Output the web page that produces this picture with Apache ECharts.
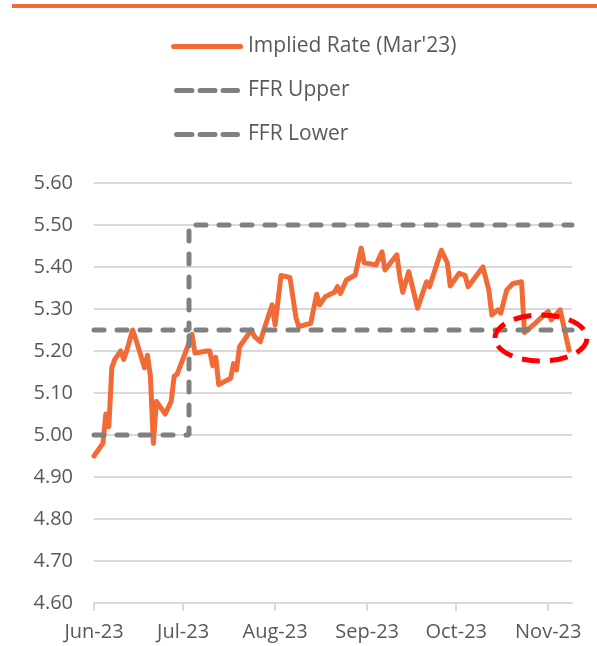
<!DOCTYPE html>
<html>
<head>
<meta charset="utf-8">
<script src="https://cdn.jsdelivr.net/npm/echarts@6/dist/echarts.min.js"></script>
<style>
  html, body { margin: 0; padding: 0; background: #fff; }
  #chart { width: 597px; height: 646px; }
</style>
</head>
<body>
<div id="chart"></div>
<script>
// implied rate
var rateDates = [
  '2023-06-01', '2023-06-04', '2023-06-05', '2023-06-06', '2023-06-07', '2023-06-08',
  '2023-06-10', '2023-06-11', '2023-06-12', '2023-06-14', '2023-06-15', '2023-06-18',
  '2023-06-19', '2023-06-20', '2023-06-21', '2023-06-22', '2023-06-25', '2023-06-27',
  '2023-06-28', '2023-06-29', '2023-07-02', '2023-07-04', '2023-07-05', '2023-07-09',
  '2023-07-10', '2023-07-11', '2023-07-12', '2023-07-13', '2023-07-17', '2023-07-18',
  '2023-07-19', '2023-07-20', '2023-07-24', '2023-07-25', '2023-07-27', '2023-07-28',
  '2023-07-31', '2023-08-01', '2023-08-03', '2023-08-06', '2023-08-08', '2023-08-09',
  '2023-08-13', '2023-08-15', '2023-08-16', '2023-08-18', '2023-08-21', '2023-08-22',
  '2023-08-23', '2023-08-25', '2023-08-28', '2023-08-30', '2023-08-31', '2023-09-04',
  '2023-09-06', '2023-09-07', '2023-09-11', '2023-09-12', '2023-09-13', '2023-09-15',
  '2023-09-18', '2023-09-21', '2023-09-22', '2023-09-26', '2023-09-28', '2023-09-29',
  '2023-10-02', '2023-10-04', '2023-10-05', '2023-10-10', '2023-10-12', '2023-10-13',
  '2023-10-15', '2023-10-16', '2023-10-18', '2023-10-20', '2023-10-23', '2023-10-24',
  '2023-10-27', '2023-10-30', '2023-11-01', '2023-11-02', '2023-11-05', '2023-11-08'
];
var rateValues = [
  4.95, 4.98, 5.05, 5.02, 5.16, 5.18,
  5.20, 5.18, 5.20, 5.25, 5.23, 5.16,
  5.19, 5.14, 4.98, 5.08, 5.05, 5.08,
  5.14, 5.145, 5.20, 5.24, 5.195, 5.20,
  5.20, 5.165, 5.185, 5.12, 5.135, 5.17,
  5.155, 5.21, 5.25, 5.235, 5.222, 5.246,
  5.31, 5.262, 5.38, 5.375, 5.28, 5.258,
  5.266, 5.335, 5.31, 5.33, 5.34, 5.353,
  5.337, 5.369, 5.381, 5.445, 5.41, 5.405,
  5.436, 5.393, 5.429, 5.377, 5.34, 5.389,
  5.302, 5.365, 5.353, 5.44, 5.41, 5.355,
  5.385, 5.38, 5.353, 5.40, 5.345, 5.286,
  5.298, 5.29, 5.345, 5.36, 5.365, 5.244,
  5.262, 5.282, 5.294, 5.274, 5.298, 5.202
];

// fed funds target range (step on the same day for both)
var ffrDates = ['2023-06-01', '2023-07-03', '2023-07-03', '2023-11-09'];
var ffrUpper = [5.25, 5.25, 5.50, 5.50];
var ffrLower = [5.00, 5.00, 5.25, 5.25];

var monthTicks = ['2023-06-01', '2023-07-01', '2023-08-01', '2023-09-01', '2023-10-01', '2023-11-01'];
var monthNames = ['Jan', 'Feb', 'Mar', 'Apr', 'May', 'Jun', 'Jul', 'Aug', 'Sep', 'Oct', 'Nov', 'Dec'];

function ts(s) {
  var p = s.split('-');
  return new Date(+p[0], +p[1] - 1, +p[2]).getTime();
}
function pairs(ds, vs) {
  return ds.map(function (d, i) { return [ts(d), vs[i]]; });
}

// legend icons: one rounded bar, and three rounded dashes
var solidIcon = 'path://M2.5,0 L69.5,0 A2.5,2.5 0 0 1 69.5,5 L2.5,5 A2.5,2.5 0 0 1 2.5,0 Z';
var dashIcon = 'path://M2.5,0 L18,0 A2.5,2.5 0 0 1 18,5 L2.5,5 A2.5,2.5 0 0 1 2.5,0 Z ' +
  'M26,0 L41,0 A2.5,2.5 0 0 1 41,5 L26,5 A2.5,2.5 0 0 1 26,0 Z ' +
  'M49,0 L63.5,0 A2.5,2.5 0 0 1 63.5,5 L49,5 A2.5,2.5 0 0 1 49,0 Z';

var orange = '#F26A36';
var grey = '#808080';
var font = 'Open Sans';

var chart = echarts.init(document.getElementById('chart'));
chart.setOption({
  animation: false,
  textStyle: { fontFamily: font },
  grid: { left: 94, right: 25, top: 183, bottom: 43 },
  legend: {
    orient: 'vertical',
    left: 166,
    top: 31,
    itemWidth: 72,
    itemHeight: 5,
    itemGap: 23,
    textStyle: { fontFamily: font, fontSize: 21, lineHeight: 21, color: '#595959' },
    data: [
      { name: "Implied Rate (Mar'23)", icon: solidIcon },
      { name: 'FFR Upper', icon: dashIcon },
      { name: 'FFR Lower', icon: dashIcon }
    ]
  },
  xAxis: {
    type: 'value',
    min: ts('2023-06-01'),
    max: ts('2023-11-09'),
    axisLine: { lineStyle: { color: '#d9d9d9', width: 2 } },
    axisTick: { show: true, length: 8, lineStyle: { color: '#d9d9d9', width: 2 },
                customValues: monthTicks.map(ts) },
    axisLabel: {
      customValues: monthTicks.map(ts),
      fontSize: 20,
      color: '#595959',
      margin: 19,
      formatter: function (v) { return monthNames[new Date(v).getMonth()] + '-23'; }
    },
    splitLine: { show: false }
  },
  yAxis: {
    type: 'value',
    min: 4.6,
    max: 5.6,
    interval: 0.1,
    axisLine: { show: false },
    axisTick: { show: false },
    axisLabel: {
      fontSize: 20,
      color: '#595959',
      margin: 21,
      formatter: function (v) { return v.toFixed(2); }
    },
    splitLine: { lineStyle: { color: '#d9d9d9', width: 2 } }
  },
  series: [
    {
      name: "Implied Rate (Mar'23)",
      type: 'line',
      symbol: 'none',
      data: pairs(rateDates, rateValues),
      lineStyle: { color: orange, width: 5, join: 'round', cap: 'round' },
      itemStyle: { color: orange }
    },
    {
      name: 'FFR Upper',
      type: 'line',
      symbol: 'none',
      data: pairs(ffrDates, ffrUpper),
      lineStyle: { color: grey, width: 5, type: [10, 13], cap: 'round' },
      itemStyle: { color: grey }
    },
    {
      name: 'FFR Lower',
      type: 'line',
      symbol: 'none',
      data: pairs(ffrDates, ffrLower),
      lineStyle: { color: grey, width: 5, type: [10, 13], cap: 'round' },
      itemStyle: { color: grey }
    }
  ],
  graphic: [
    {
      type: 'rect',
      shape: { x: 12, y: 4, width: 585, height: 4 },
      style: { fill: orange }
    },
    {
      type: 'ellipse',
      shape: { cx: 541, cy: 338, rx: 46, ry: 23 },
      style: { fill: 'none', stroke: '#FF0000', lineWidth: 5, lineDash: [18, 10] },
      z: 100
    }
  ]
});
</script>
</body>
</html>
